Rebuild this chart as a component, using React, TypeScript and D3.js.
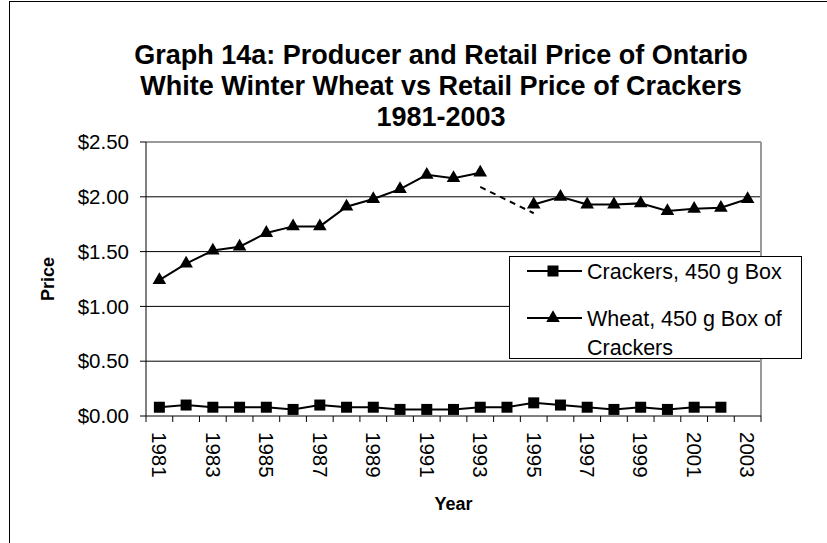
import React from "react";
import * as d3 from "d3";

const years: number[] = [1981, 1982, 1983, 1984, 1985, 1986, 1987, 1988, 1989, 1990, 1991, 1992, 1993, 1994, 1995, 1996, 1997, 1998, 1999, 2000, 2001, 2002, 2003];
const crackers: (number | null)[] = [0.08, 0.10, 0.08, 0.08, 0.08, 0.06, 0.10, 0.08, 0.08, 0.06, 0.06, 0.06, 0.08, 0.08, 0.12, 0.10, 0.08, 0.06, 0.08, 0.06, 0.08, 0.08, null];
const wheat: (number | null)[] = [1.24, 1.39, 1.51, 1.545, 1.67, 1.73, 1.73, 1.91, 1.98, 2.07, 2.20, 2.17, 2.22, null, 1.93, 2.00, 1.93, 1.93, 1.94, 1.87, 1.89, 1.90, 1.98];
// hand-drawn dashed connector across the missing 1994 wheat value
const dashYears: number[] = [1993, 1995];
const dashValues: number[] = [2.09, 1.85];
const yTicks: number[] = [0, 0.5, 1, 1.5, 2, 2.5];
const titleLines: string[] = [
  "Graph 14a: Producer and Retail Price of Ontario",
  "White Winter Wheat vs Retail Price of Crackers",
  "1981-2003",
];
const legendLabels: string[][] = [["Crackers, 450 g Box"], ["Wheat, 450 g Box of", "Crackers"]];

const W = 827;
const H = 543;
const FONT = "'Liberation Sans', Arial, sans-serif";

export default function App() {
  const left = 146, right = 761, top = 142, bottom = 416;
  const x = d3.scaleBand<number>().domain(years).range([left, right]).padding(0);
  const cx = (yr: number) => (x(yr) as number) + x.bandwidth() / 2;
  const y = d3.scaleLinear().domain([0, 2.5]).range([bottom, top]);

  const lineGen = d3
    .line<[number, number | null]>()
    .defined((d) => d[1] !== null)
    .x((d) => cx(d[0]))
    .y((d) => y(d[1] as number));

  const crackPts = years.map((yr, i) => [yr, crackers[i]] as [number, number | null]);
  const wheatPts = years.map((yr, i) => [yr, wheat[i]] as [number, number | null]);
  const dashPts = dashYears.map((yr, i) => [yr, dashValues[i]] as [number, number | null]);

  const sq = 11;
  const tri = d3.symbol().type(d3.symbolTriangle).size(80)();

  const edges = [...years.map((yr) => x(yr) as number), right];

  return (
    <svg width={W} height={H} style={{ position: "absolute", left: 0, top: 0, background: "#fff" }} fontFamily={FONT}>
      <rect x={0} y={0} width={W} height={H} fill="#fff" />
      {/* outer chart border */}
      <rect x={9.5} y={1.5} width={W + 20} height={H + 20} fill="none" stroke="#000" strokeWidth={1} />
      {/* title */}
      {titleLines.map((t, i) => (
        <text key={i} x={441} y={64 + i * 31} textAnchor="middle" fontSize={27} fontWeight="bold">
          {t}
        </text>
      ))}
      {/* gridlines */}
      {yTicks.slice(1, -1).map((v) => (
        <line key={v} x1={left} x2={right} y1={y(v)} y2={y(v)} stroke="#000" strokeWidth={1} />
      ))}
      {/* plot border top/right gray */}
      <line x1={left} x2={right} y1={top} y2={top} stroke="#999" strokeWidth={2} />
      <line x1={right} x2={right} y1={top} y2={bottom} stroke="#999" strokeWidth={2} />
      {/* y axis */}
      <line x1={left} x2={left} y1={top} y2={bottom} stroke="#000" strokeWidth={1} />
      {yTicks.map((v) => (
        <g key={v}>
          <line x1={left - 6} x2={left} y1={y(v)} y2={y(v)} stroke="#000" />
          <text x={left - 17} y={y(v)} dy="0.35em" textAnchor="end" fontSize={20.5}>
            {d3.format("$.2f")(v)}
          </text>
        </g>
      ))}
      {/* x axis */}
      <line x1={left} x2={right} y1={bottom} y2={bottom} stroke="#000" strokeWidth={1} />
      {edges.map((ex, i) => (
        <line key={i} x1={ex} x2={ex} y1={bottom} y2={bottom + 6} stroke="#000" />
      ))}
      {years.map((yr, i) =>
        i % 2 === 0 ? (
          <text key={yr} transform={`translate(${cx(yr)},${bottom + 16}) rotate(90)`} dy="0.35em" textAnchor="start" fontSize={20.5}>
            {yr}
          </text>
        ) : null
      )}
      {/* axis titles */}
      <text transform={`translate(48,${(top + bottom) / 2}) rotate(-90)`} dy="0.35em" textAnchor="middle" fontSize={18} fontWeight="bold">
        Price
      </text>
      <text x={(left + right) / 2} y={510} textAnchor="middle" fontSize={18} fontWeight="bold">
        Year
      </text>
      {/* series */}
      <path d={lineGen(crackPts) || ""} fill="none" stroke="#000" strokeWidth={2} />
      {crackPts.filter((d) => d[1] !== null).map((d) => (
        <rect key={d[0]} x={cx(d[0]) - sq / 2} y={y(d[1] as number) - sq / 2} width={sq} height={sq} fill="#000" />
      ))}
      <path d={lineGen(wheatPts) || ""} fill="none" stroke="#000" strokeWidth={2} />
      <path d={lineGen(dashPts) || ""} fill="none" stroke="#000" strokeWidth={2} strokeDasharray="6,5" />
      {wheatPts.filter((d) => d[1] !== null).map((d) => (
        <path key={d[0]} d={tri || ""} transform={`translate(${cx(d[0])},${y(d[1] as number)})`} fill="#000" />
      ))}
      {/* legend */}
      <g>
        <rect x={509.5} y={256.5} width={292} height={102} fill="#fff" stroke="#000" strokeWidth={1} />
        <line x1={527} x2={582} y1={271} y2={271} stroke="#000" strokeWidth={2} />
        <rect x={553 - sq / 2} y={271 - sq / 2} width={sq} height={sq} fill="#000" />
        <text x={587} y={271} dy="0.35em" fontSize={21.5}>{legendLabels[0][0]}</text>
        <line x1={527} x2={582} y1={318} y2={318} stroke="#000" strokeWidth={2} />
        <path d={tri || ""} transform={`translate(553,318)`} fill="#000" />
        <text x={587} y={318} dy="0.35em" fontSize={21.5}>{legendLabels[1][0]}</text>
        <text x={587} y={347} dy="0.35em" fontSize={21.5}>{legendLabels[1][1]}</text>
      </g>
    </svg>
  );
}
